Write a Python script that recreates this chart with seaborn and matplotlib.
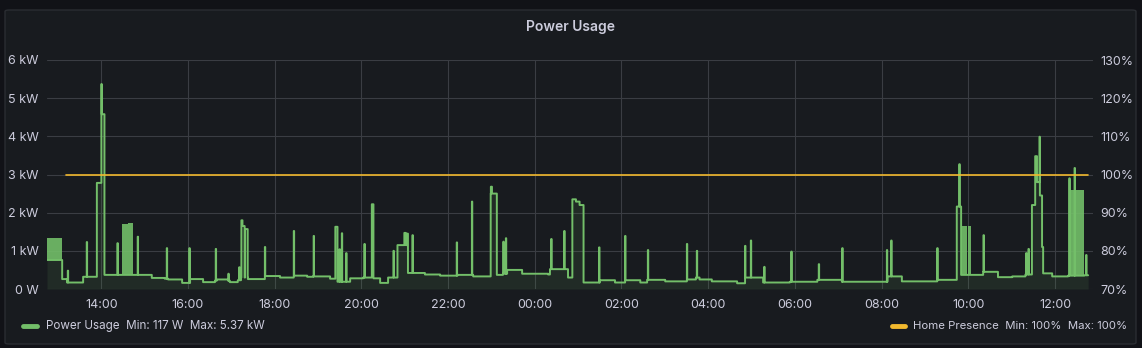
import numpy as np
import pandas as pd
import matplotlib
matplotlib.use("Agg")
import matplotlib.pyplot as plt
import matplotlib.dates as mdates
import matplotlib.ticker as mticker
from matplotlib.patches import FancyBboxPatch
from matplotlib.lines import Line2D
import seaborn as sns

# ---------------- data (minutes after 12:45, watts) ----------------
start = pd.Timestamp("2023-01-01 12:45")
end_minute = 1441

base_t = [0, 20.8, 27.7, 49.8, 79.3, 145, 163, 167.5, 187, 198, 216, 232.5, 235, 250.5,
          253, 264, 268.5, 278, 302, 322.5, 341.8, 360, 368, 391.7, 401.4, 419.4, 437.4,
          451, 461, 472, 484.8, 498, 523, 544, 568, 589.6, 614, 622.4, 631, 636.7, 657.5,
          693.4, 696, 721, 727, 732, 737, 742.3, 765, 786, 800, 821, 830.5, 855.4, 886,
          898, 903, 920, 955, 966, 991, 1028, 1066, 1100, 1163, 1183, 1232, 1259, 1265,
          1295.5, 1316, 1335.6, 1354, 1363, 1367.5, 1370, 1374, 1377, 1378.5, 1391, 1413,
          1435]
base_w = [760, 260, 170, 320, 370, 290, 270, 250, 160, 260, 180, 220, 250, 220,
          180, 230, 300, 260, 340, 300, 350, 320, 330, 270, 190, 280, 300,
          280, 160, 300, 1150, 420, 380, 350, 370, 330, 2500, 370, 400, 500, 400,
          380, 520, 300, 2350, 2290, 2200, 170, 230, 170, 230, 170, 240, 200, 250,
          300, 250, 200, 150, 300, 170, 190, 240, 190, 330, 200, 240, 2160, 370,
          450, 310, 330, 380, 2200, 3480, 2800, 2450, 1100, 410, 330, 350,
          360]

spike_t = [28.6, 55, 68.8, 75.1, 75.7, 97.3, 125.5, 165.7, 197, 233.5, 251, 266, 269,
           270.5, 274, 301.3, 341.5, 369, 399, 404.6, 408, 414, 439.2, 449.4, 479.3,
           494.5, 498, 505.6, 567, 587.8, 614.2, 631.5, 635, 697.6, 715.6, 764, 800,
           831.4, 885.4, 899.2, 966, 974, 992.4, 1029.8, 1068, 1100.3, 1162.2, 1168.2,
           1231.8, 1262.3, 1296, 1355, 1358.2, 1373.4, 1414.6, 1421.9, 1438]
spike_dur = [0.5, 0.5, 6.3, 0.6, 3.6, 0.5, 0.5, 0.5, 0.5, 0.5, 0.5, 0.5, 1.5,
             3, 3.6, 0.5, 0.5, 0.5, 3, 0.5, 0.5, 0.5, 0.5, 2.2, 0.5,
             2, 1.5, 0.5, 0.5, 0.5, 1.5, 0.5, 0.5, 0.5, 0.5, 0.5, 0.5,
             0.5, 0.5, 0.5, 0.5, 0.5, 0.5, 0.5, 0.5, 0.5, 0.5, 0.5,
             0.5, 0.6, 0.5, 0.5, 0.5, 0.6, 0.5, 0.5, 0.5]
spike_w = [480, 1230, 2780, 5370, 4580, 1200, 1370, 1070, 1070, 1050, 400, 570, 1800,
           1650, 1570, 1100, 1520, 1390, 1630, 1040, 1460, 940, 1180, 2220, 1000,
           1470, 1450, 1410, 1220, 2290, 2680, 1240, 1330, 1310, 1520, 1090, 1390,
           1020, 1180, 1000, 1130, 1270, 580, 980, 650, 1070, 1020, 1270,
           1070, 3270, 1410, 940, 1050, 3990, 2900, 3170, 890]

# dense, rapidly switching stretches (minute from, minute to, low W, high W)
band_t0 = [0, 104.2, 112.5, 1266, 1274.5, 1413.6]
band_t1 = [20.8, 111.5, 118.6, 1272.5, 1279, 1434.4]
band_lo = [760, 370, 370, 370, 370, 350]
band_hi = [1330, 1700, 1720, 1650, 1640, 2600]

presence_t = [26.3, 1441]
presence_v = [100, 100]

left_ticks_kw = [0, 1, 2, 3, 4, 5, 6]
right_ticks_pct = [70, 80, 90, 100, 110, 120, 130]
legend_power = "Power Usage  Min: 117 W  Max: 5.37 kW"
legend_home = "Home Presence  Min: 100%  Max: 100%"
title = "Power Usage"

# ---------------- build series ----------------
t = np.arange(0, end_minute, 0.25)
w = np.array(base_w, dtype=float)[np.searchsorted(base_t, t, side="right") - 1]
for s, d, v in zip(spike_t, spike_dur, spike_w):
    m = (t >= s) & (t < s + d)
    w[m] = np.maximum(w[m], v)
times = start + pd.to_timedelta(t, unit="m")
df = pd.DataFrame({"time": times, "watts": w})

# ---------------- style ----------------
sns.set_theme(style="dark")
plt.rcParams["font.family"] = ["Inter", "DejaVu Sans"]
BG = "#111217"
PANEL = "#181b1f"
TXT = "#ccccdc"
GRID = "#3a3d43"
GREEN = "#73bf69"
YELLOW = "#f2b92e"

W, H = 1142, 348
fig = plt.figure(figsize=(W / 100, H / 100), dpi=100)
fig.patch.set_facecolor(BG)
panel = FancyBboxPatch((5 / W, 4 / H), 1131 / W, 334 / H,
                       boxstyle="round,pad=0,rounding_size=0.004",
                       transform=fig.transFigure, facecolor=PANEL,
                       edgecolor="#2a2d32", linewidth=1, zorder=0)
fig.add_artist(panel)

ax = fig.add_axes([47 / W, 59 / H, (1093 - 47) / W, (289 - 60) / H])
ax.set_facecolor(PANEL)
ax.patch.set_alpha(0)

ax.fill_between(df["time"], 0, df["watts"], step="post", color=GREEN, alpha=0.1, lw=0, zorder=2)
for a, b, lo, hi in zip(band_t0, band_t1, band_lo, band_hi):
    ax.fill_between([start + pd.Timedelta(minutes=a), start + pd.Timedelta(minutes=b)],
                    lo, hi, color=GREEN, alpha=0.9, lw=0, zorder=3)
sns.lineplot(data=df, x="time", y="watts", ax=ax, color=GREEN, lw=1.4,
             drawstyle="steps-post", estimator=None, zorder=4)

ax.set_ylim(0, 6000)
ax.set_xlim(start, start + pd.Timedelta(minutes=1447.5))
ax.set_yticks([k * 1000 for k in left_ticks_kw])
ax.set_yticklabels(["0 W"] + [f"{k} kW" for k in left_ticks_kw[1:]])
ax.xaxis.set_major_locator(mdates.HourLocator(byhour=range(0, 24, 2)))
ax.xaxis.set_major_formatter(mdates.DateFormatter("%H:%M"))
ax.set_xlabel("")
ax.set_ylabel("")
ax.grid(True, color=GRID, lw=0.8)
for sp in ax.spines.values():
    sp.set_visible(False)
ax.tick_params(axis="both", length=0, colors=TXT, labelsize=9)
ax.tick_params(axis="y", pad=6)
ax.tick_params(axis="x", pad=7)

ax2 = ax.twinx()
ax2.set_ylim(70, 130)
ax2.set_yticks(right_ticks_pct)
ax2.yaxis.set_major_formatter(mticker.FuncFormatter(lambda v, p: f"{v:.0f}%"))
ax2.plot([start + pd.Timedelta(minutes=m) for m in presence_t], presence_v,
         color=YELLOW, lw=1.2, zorder=5)
ax2.grid(False)
for sp in ax2.spines.values():
    sp.set_visible(False)
ax2.tick_params(axis="y", length=0, colors=TXT, labelsize=9, pad=5)
ax2.set_ylabel("")

fig.text(571 / W, 1 - 27 / H, title, ha="center", va="center", color=TXT,
         fontsize=10, fontweight="semibold")

fig.add_artist(Line2D([23 / W, 37 / W], [1 - 326 / H, 1 - 326 / H], color=GREEN, lw=3.5,
                      transform=fig.transFigure))
fig.text(46 / W, 1 - 326 / H, legend_power, ha="left", va="center", color=TXT, fontsize=8.4)
fig.add_artist(Line2D([892 / W, 905 / W], [1 - 326 / H, 1 - 326 / H], color=YELLOW, lw=3.5,
                      transform=fig.transFigure))
fig.text(913 / W, 1 - 326 / H, legend_home, ha="left", va="center", color=TXT, fontsize=8.2)

fig.savefig("out.png", dpi=100, facecolor=BG)
